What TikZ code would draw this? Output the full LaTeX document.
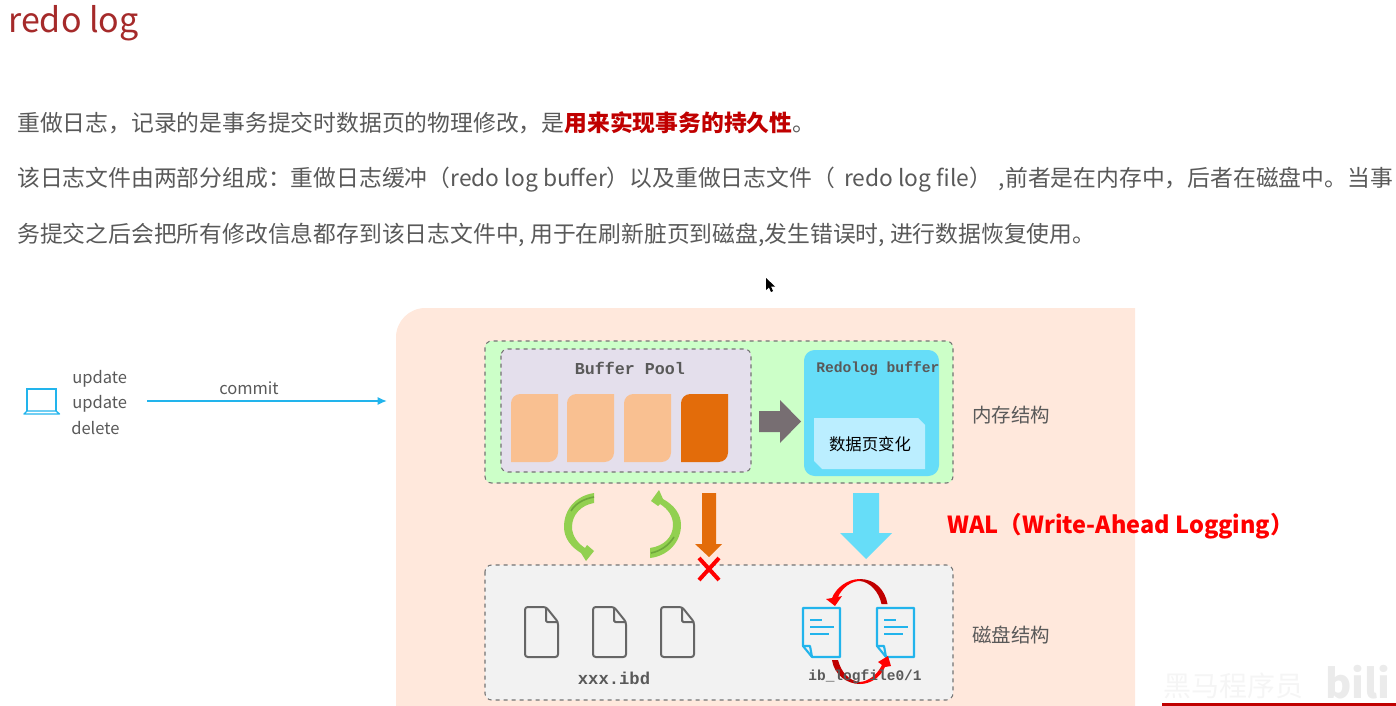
\documentclass[tikz,border=0pt]{standalone}
\usepackage{fontspec}
\setmainfont{Noto Sans CJK SC}
\newfontfamily\monofont{Liberation Mono}
\usetikzlibrary{arrows.meta,calc,positioning}
\definecolor{panelbg}{HTML}{FFE8DC}
\definecolor{memorybg}{HTML}{CCFFC8}
\definecolor{poolbg}{HTML}{E4DFEC}
\definecolor{diskbg}{HTML}{F2F2F2}
\definecolor{pagelight}{HTML}{F9C091}
\definecolor{pagedark}{HTML}{E36C0A}
\definecolor{skyblue}{HTML}{66DDF8}
\definecolor{paleblue}{HTML}{BBEEFF}
\definecolor{lineblue}{HTML}{22B4EC}
\definecolor{arcgreen}{HTML}{92D050}
\definecolor{arcdark}{HTML}{6FA83C}
\definecolor{bodygray}{HTML}{595959}
\definecolor{titlered}{HTML}{A52A2A}
\definecolor{keyred}{HTML}{C00000}
\definecolor{pushgray}{HTML}{776E72}
\begin{document}
\begin{tikzpicture}[
    x=0.75pt, y=-0.75pt,
    bodytext/.style={anchor=base west, inner sep=0pt, text=bodygray, font=\fontsize{17.1}{20}\selectfont},
    sidetext/.style={anchor=west, inner sep=0pt, text=bodygray, font=\fontsize{14.6}{18}\selectfont},
    optext/.style={anchor=west, inner sep=0pt, text=bodygray, font=\fontsize{12.4}{14}\selectfont},
    monotext/.style={inner sep=0pt, text=black!65, font=\monofont\bfseries},
    dashbox/.style={draw=black!55, thick, dashed, rounded corners=5},
    filecolor/.style={draw=black!60, line width=1.5pt, line join=round},
    logcolor/.style={draw=lineblue, line width=1.6pt, line join=round}
]
\useasboundingbox (0,0) rectangle (1396,706);
\node[anchor=west, inner sep=0pt, text=titlered, font=\fontsize{25.5}{30}\selectfont] (title) at (8,23) {redo log};
\node[bodytext] (lineone) at (17,132) {重做日志，记录的是事务提交时数据页的物理修改，是\textcolor{keyred}{\textbf{用来实现事务的持久性}}。};
\node[bodytext] (linetwo) at (17,187) {该日志文件由两部分组成：重做日志缓冲（redo log buffer）以及重做日志文件（\hspace{7pt}redo log file）\hspace{5pt},前者是在内存中，后者在磁盘中。当事};
\node[bodytext] (linethree) at (17,243) {务提交之后会把所有修改信息都存到该日志文件中, 用于在刷新脏页到磁盘,发生错误时, 进行数据恢复使用。};
\fill[black] (766,278) -- (766,290) -- (769,287.5) -- (771,292) -- (773,291) -- (771,286.5) -- (775,286.5) -- cycle;
% client side
\draw[lineblue, line width=1pt] (27,411) -- (27,389) -- (56,389) -- (56,411);
\draw[lineblue, line width=1pt, line join=round] (27,411) -- (56,411) -- (59.5,414) -- (24,414) -- cycle;
\node[optext] (opone) at (72,379) {update};
\node[optext] (optwo) at (72,404) {update};
\node[optext] (opthree) at (71,428) {delete};
\coordinate (commitA) at (147,401);
\coordinate (commitB) at (387,401);
\draw[-{Latex[length=7pt,width=6pt]}, lineblue, line width=1.2pt] (commitA) -- (commitB);
\node[optext, anchor=center] (commit) at (249,388) {commit};
% panel
\fill[panelbg] (396,706) [rounded corners=22] -- (396,308) [sharp corners] -- (1135,308) -- (1135,706) -- cycle;
\draw[dashbox, fill=memorybg] (485,341) rectangle (953,483);
\draw[dashbox, fill=poolbg] (501,349) rectangle (751,472);
\node[monotext, font=\monofont\bfseries\fontsize{12.5}{14}\selectfont] (pool) at (630,368) {Buffer Pool};
\foreach \x/\c in {511/pagelight,567/pagelight,624/pagelight,681/pagedark}{
  \fill[\c] (\x,462) [rounded corners=7] -- (\x,394) [sharp corners] -- ({\x+47},394) [rounded corners=7] -- ({\x+47},462) [sharp corners] -- cycle;
}
\fill[pushgray] (759,411) -- (780,411) -- (780,400) -- (801,421.5) -- (780,443) -- (780,432) -- (759,432) -- cycle;
\fill[skyblue, rounded corners=8] (804,350) rectangle (939,476);
\node[monotext, anchor=west, font=\monofont\bfseries\fontsize{11}{12}\selectfont] (redobuf) at (816,369) {Redolog buffer};
\fill[paleblue] (814,418) -- (918,418) -- (925,425) -- (925,469) -- (822,469) -- (814,461) -- cycle;
\node[inner sep=0pt, font=\fontsize{12.3}{14}\selectfont] (change) at (870,444) {数据页变化};
\node[sidetext] (memory) at (972,415) {内存结构};
% transfer arrows
\fill[arcgreen] (594,493) .. controls (575,496) and (564,510) .. (564,527) .. controls (564,538) and (571,547) .. (581,553) -- (586,561) -- (594,551) -- (587,545) -- (585,548) .. controls (577,543) and (572,535) .. (572,527) .. controls (572,515) and (581,505) .. (594,503) -- cycle;
\draw[arcdark, line width=1.2pt] (594,497) .. controls (583,499) and (575,504) .. (571,511);
\fill[arcgreen] (650,558) .. controls (668,556) and (681,542) .. (681,525) .. controls (681,514) and (674,505) .. (663,499) -- (659,490) -- (651,501) -- (658,506) -- (660,504) .. controls (668,509) and (673,516) .. (673,525) .. controls (673,537) and (664,546) .. (650,548) -- cycle;
\draw[arcdark, line width=1.2pt] (651,553) .. controls (661,551) and (669,545) .. (674,537);
\fill[pagedark] (702,493) -- (716,493) -- (716,544) -- (722,544) -- (709,557) -- (695,544) -- (702,544) -- cycle;
\fill[skyblue] (853,493) -- (879,493) -- (879,533) -- (892,533) -- (866,559) -- (840,533) -- (853,533) -- cycle;
\node[anchor=west, inner sep=0pt, text=red, font=\bfseries\fontsize{17.6}{20}\selectfont] (wal) at (947,526.5) {WAL（Write-Ahead Logging）};
% disk
\draw[dashbox, fill=diskbg] (485,565) rectangle (953,700);
\draw[red, line width=3pt] (699,558) -- (719,580) (719,558) -- (699,580);
\foreach \x in {525,593,661}{
  \draw[filecolor, rounded corners=2] (\x,607) -- ({\x+21},607) -- ({\x+33},622) -- ({\x+33},657) -- (\x,657) -- cycle;
  \draw[filecolor, rounded corners=1] ({\x+21},607) -- ({\x+21},622) -- ({\x+33},622);
}
\node[monotext, font=\monofont\bfseries\fontsize{12.9}{14}\selectfont] (ibd) at (614,678) {xxx.ibd};
\foreach \x in {803,877}{
  \draw[logcolor] (\x,608) -- ({\x+37},608) -- ({\x+37},657) -- ({\x+9},657) -- (\x,646) -- cycle;
  \draw[logcolor] (\x,646) -- ({\x+7},646) -- ({\x+9},657);
  \draw[lineblue, line width=1.2pt] ({\x+7},620) -- ({\x+19},620) ({\x+7},627) -- ({\x+31},627) ({\x+7},634) -- ({\x+26},634);
}
\fill[red] (860,579) .. controls (847,579) and (836,588) .. (832,598) -- (826,599) -- (835,606) -- (842,596) -- (838,597) .. controls (842,588) and (851,581) .. (860,581) -- cycle;
\fill[keyred] (860,579) .. controls (874,579) and (885,589) .. (887.5,604) -- (881.5,604) .. controls (879,592) and (870,582) .. (860,581) -- cycle;
\fill[keyred] (832,660) .. controls (834,674) and (846,684) .. (860,684) -- (860,682) .. controls (849,681) and (841,672) .. (838,660) -- cycle;
\fill[red] (860,684) .. controls (870,684) and (880,678) .. (885,667) -- (891,666) -- (888,656) -- (878,662) -- (882,665) .. controls (877,675) and (869,681) .. (860,682) -- cycle;
\node[monotext, font=\monofont\bfseries\fontsize{10.9}{12}\selectfont] (logfile) at (865,677) {ib\_logfile0/1};
\node[sidetext] (disk) at (972,635) {磁盘结构};
% video overlay
\fill[keyred] (1162,703) -- (1396,703) -- (1396,706) -- (1162,706) -- cycle;
\node[anchor=west, inner sep=0pt, text=black!4, font=\fontsize{21}{24}\selectfont] (mark) at (1163,686) {黑马程序员};
\node[anchor=west, inner sep=0pt, text=black!8, font=\bfseries\fontsize{30}{32}\selectfont] (site) at (1325,682) {bili};
\end{tikzpicture}
\end{document}
